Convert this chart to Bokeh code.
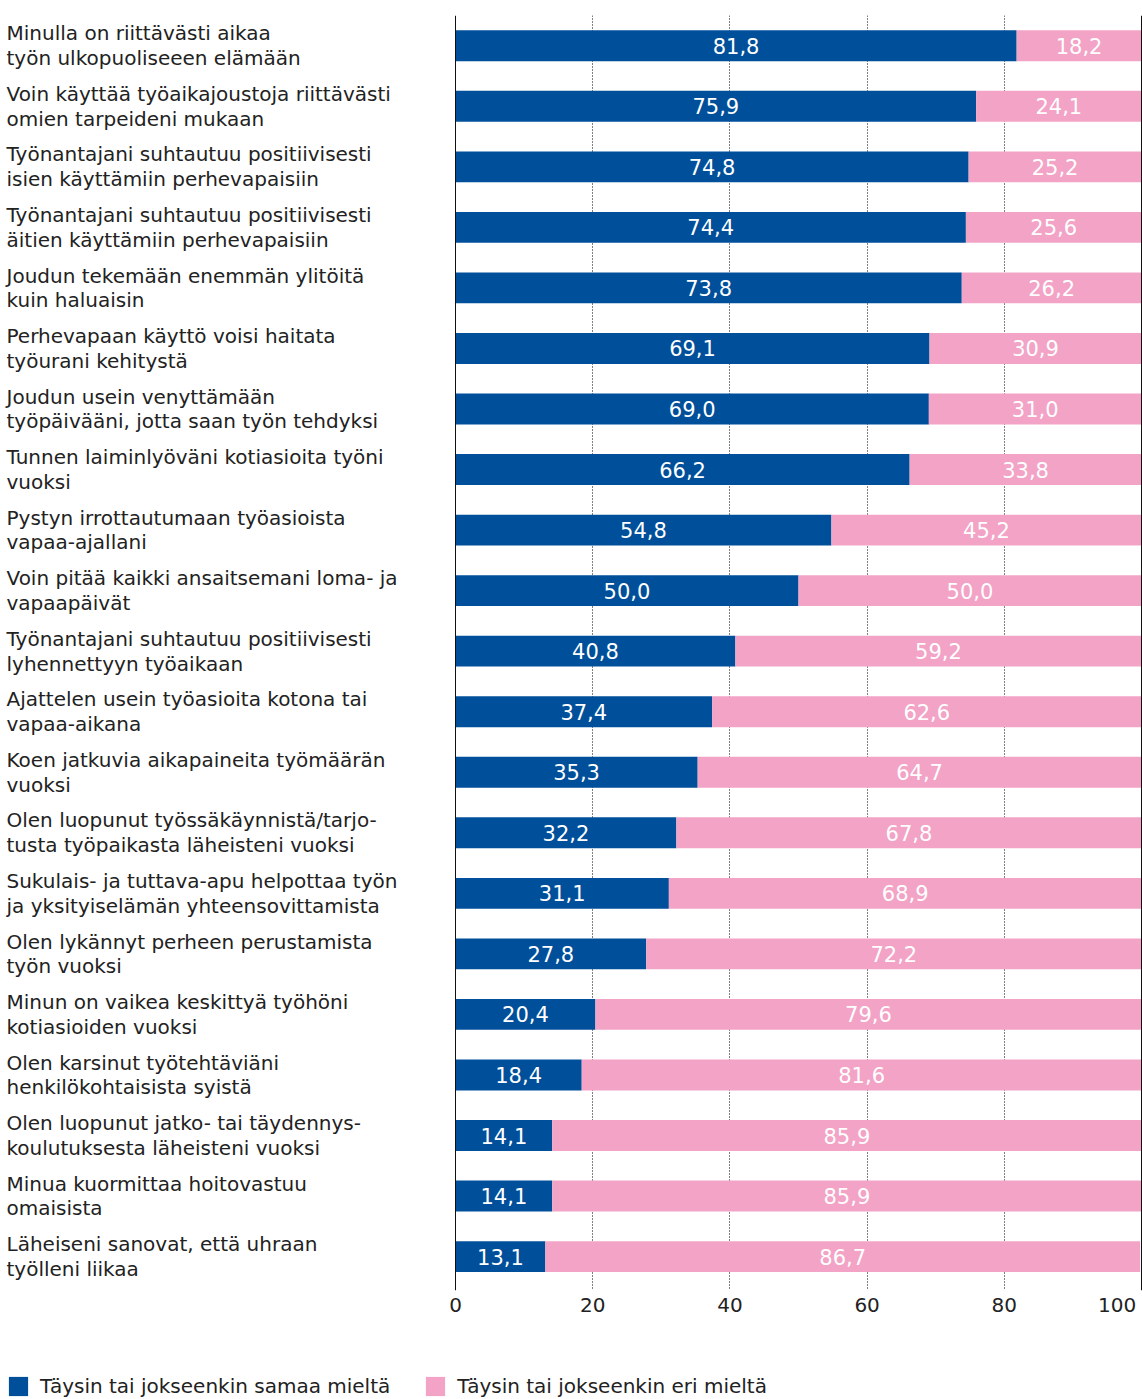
from bokeh.plotting import figure
from bokeh.layouts import column
from bokeh.models import ColumnDataSource, Range1d, FixedTicker, Span, Legend, LegendItem
from bokeh.core.properties import value
from bokeh.embed import file_html
from bokeh.resources import INLINE

statements = [
    "Minulla on riittävästi aikaa\ntyön ulkopuoliseeen elämään",
    "Voin käyttää työaikajoustoja riittävästi\nomien tarpeideni mukaan",
    "Työnantajani suhtautuu positiivisesti\nisien käyttämiin perhevapaisiin",
    "Työnantajani suhtautuu positiivisesti\näitien käyttämiin perhevapaisiin",
    "Joudun tekemään enemmän ylitöitä\nkuin haluaisin",
    "Perhevapaan käyttö voisi haitata\ntyöurani kehitystä",
    "Joudun usein venyttämään\ntyöpäivääni, jotta saan työn tehdyksi",
    "Tunnen laiminlyöväni kotiasioita työni\nvuoksi",
    "Pystyn irrottautumaan työasioista\nvapaa-ajallani",
    "Voin pitää kaikki ansaitsemani loma- ja\nvapaapäivät",
    "Työnantajani suhtautuu positiivisesti\nlyhennettyyn työaikaan",
    "Ajattelen usein työasioita kotona tai\nvapaa-aikana",
    "Koen jatkuvia aikapaineita työmäärän\nvuoksi",
    "Olen luopunut työssäkäynnistä/tarjo-\ntusta työpaikasta läheisteni vuoksi",
    "Sukulais- ja tuttava-apu helpottaa työn\nja yksityiselämän yhteensovittamista",
    "Olen lykännyt perheen perustamista\ntyön vuoksi",
    "Minun on vaikea keskittyä työhöni\nkotiasioiden vuoksi",
    "Olen karsinut työtehtäviäni\nhenkilökohtaisista syistä",
    "Olen luopunut jatko- tai täydennys-\nkoulutuksesta läheisteni vuoksi",
    "Minua kuormittaa hoitovastuu\nomaisista",
    "Läheiseni sanovat, että uhraan\ntyölleni liikaa",
]
agree = [81.8, 75.9, 74.8, 74.4, 73.8, 69.1, 69.0, 66.2, 54.8, 50.0, 40.8,
         37.4, 35.3, 32.2, 31.1, 27.8, 20.4, 18.4, 14.1, 14.1, 13.1]
disagree = [18.2, 24.1, 25.2, 25.6, 26.2, 30.9, 31.0, 33.8, 45.2, 50.0, 59.2,
            62.6, 64.7, 67.8, 68.9, 72.2, 79.6, 81.6, 85.9, 85.9, 86.7]
series_names = ["Täysin tai jokseenkin samaa mieltä", "Täysin tai jokseenkin eri mieltä"]
x_ticks = [0, 20, 40, 60, 80, 100]
grid_ticks = [20, 40, 60, 80]

BLUE = "#004F9A"
PINK = "#F2A3C6"
TXT = "#222222"
FONT = "DejaVu Sans"

def fmt(v):
    return f"{v:.1f}".replace(".", ",")

ys = list(range(len(statements)))
src = ColumnDataSource(dict(
    y=ys, agree=agree, disagree=disagree, label=statements,
    a_txt=[fmt(v) for v in agree], d_txt=[fmt(v) for v in disagree],
    a_x=[a / 2 for a in agree], d_x=[a + d / 2 for a, d in zip(agree, disagree)],
))

W, H1, H2 = 1142, 1340, 59
px_per_unit = 6.86
x_start = -455 / px_per_unit
x_end = 100 + 1 / px_per_unit

p = figure(width=W, height=H1, output_backend="svg", toolbar_location=None,
           x_range=Range1d(x_start, x_end), y_range=Range1d(20.56, -0.5),
           min_border_left=0, min_border_right=0, min_border_top=15, min_border_bottom=50)
p.outline_line_color = None
p.background_fill_color = "white"
p.yaxis.visible = False
p.ygrid.visible = False

p.xgrid.ticker = FixedTicker(ticks=grid_ticks)
p.xgrid.grid_line_color = "black"
p.xgrid.grid_line_dash = "1 2"
p.xgrid.grid_line_width = 1

ax = p.xaxis[0]
ax.ticker = FixedTicker(ticks=x_ticks)
ax.major_label_overrides = {100: "100" + "\u00a0"}
ax.axis_line_color = None
ax.major_tick_line_color = None
ax.minor_tick_line_color = None
ax.major_tick_out = 0
ax.major_tick_in = 0
ax.major_label_standoff = 2
ax.major_label_text_font = FONT
ax.major_label_text_font_size = "20px"
ax.major_label_text_color = TXT

for xv in (0, 100):
    p.add_layout(Span(location=xv, dimension="height", line_color="#111111", line_width=1))

rs = p.hbar_stack(["agree", "disagree"], y="y", height=0.51, color=[BLUE, PINK],
                  line_color=None, source=src)

p.text(x="a_x", y="y", text="a_txt", source=src, text_color="white",
       text_font=value(FONT), text_font_size="21px", text_align="center", text_baseline="middle")
p.text(x="d_x", y="y", text="d_txt", source=src, text_color="white",
       text_font=value(FONT), text_font_size="21px", text_align="center", text_baseline="middle")
p.text(x=x_start, y="y", text="label", source=src, text_color=TXT, x_offset=6,
       text_font=value(FONT), text_font_size="20px", text_align="left", text_baseline="middle",
       text_line_height=1.03)

# legend strip (swatch renderers sit outside the visible range; only their legend glyphs show)
lf = figure(width=W, height=H2, output_backend="svg", toolbar_location=None,
            x_range=Range1d(0, 1), y_range=Range1d(0, 1),
            min_border_left=0, min_border_right=0, min_border_top=0, min_border_bottom=0)
lf.outline_line_color = None
lf.axis.visible = False
lf.grid.visible = False
r1 = lf.rect(x=[-10], y=[-10], width=1, height=1, fill_color=BLUE, line_color=None)
r2 = lf.rect(x=[-10], y=[-10], width=1, height=1, fill_color=PINK, line_color=None)
legend = Legend(items=[LegendItem(label=series_names[0], renderers=[r1]),
                       LegendItem(label=series_names[1], renderers=[r2])],
                orientation="horizontal", location=(6, 1),
                glyph_width=24, glyph_height=24, label_standoff=10, spacing=33,
                padding=0, margin=0, border_line_color=None, background_fill_alpha=0,
                label_text_font=FONT, label_text_font_size="20px", label_text_color=TXT)
lf.add_layout(legend)

layout = column(p, lf, spacing=0)
open("out.html", "w").write(file_html(layout, INLINE))
